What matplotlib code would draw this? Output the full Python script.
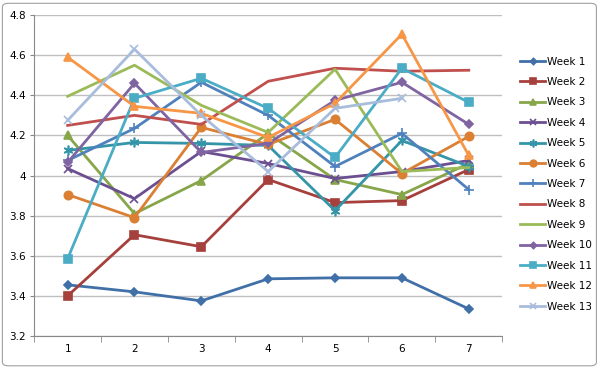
import numpy as np
import matplotlib
matplotlib.use("Agg")
import matplotlib.pyplot as plt
from matplotlib.patches import FancyBboxPatch

days = [1, 2, 3, 4, 5, 6, 7]

week1 = [3.455, 3.42, 3.375, 3.485, 3.49, 3.49, 3.335]
week2 = [3.40, 3.705, 3.645, 3.98, 3.865, 3.875, 4.03]
week3 = [4.20, 3.81, 3.975, 4.21, 3.98, 3.905, 4.06]
week4 = [4.035, 3.885, 4.12, 4.06, 3.985, 4.02, 4.075]
week5 = [4.125, 4.165, 4.16, 4.15, 3.825, 4.175, 4.045]
week6 = [3.905, 3.79, 4.24, 4.155, 4.28, 4.01, 4.195]
week7 = [4.075, 4.235, 4.465, 4.30, 4.045, 4.21, 3.93]
week8 = [4.25, 4.30, 4.255, 4.47, 4.535, 4.52, 4.525]
week9 = [4.395, 4.55, 4.35, 4.215, 4.53, 4.02, 4.04]
week10 = [4.065, 4.46, 4.115, 4.16, 4.375, 4.465, 4.255]
week11 = [3.585, 4.385, 4.485, 4.335, 4.09, 4.535, 4.365]
week12 = [4.59, 4.345, 4.31, 4.19, 4.36, 4.705, 4.10]
week13 = [4.275, 4.63, 4.30, 4.02, 4.335, 4.385, np.nan]

series = [week1, week2, week3, week4, week5, week6, week7,
          week8, week9, week10, week11, week12, week13]
labels = ["Week %d" % i for i in range(1, 14)]

colors = ["#4170A8", "#A6403C", "#87A64A", "#6C4F91", "#3595A8", "#DB7F33",
          "#4F81BD", "#C0504D", "#9BBB59", "#8064A2", "#4BACC6", "#F79646",
          "#A8BCDC"]
markers = ["D", "s", "^", "x", (6, 2, 0), "o", "+", None, None, "D", "s", "^", "x"]
msizes = [4, 6, 6, 6, 7, 6, 7, 0, 0, 4, 6, 6, 6]

fig = plt.figure(figsize=(6, 3.68), dpi=100)
fig.patches.append(FancyBboxPatch((0.004, 0.006), 0.99, 0.985,
                                  boxstyle="round,pad=0,rounding_size=0.01",
                                  transform=fig.transFigure, fill=False,
                                  edgecolor="#A0A0A0", linewidth=0.8))

ax = fig.add_axes([0.057, 0.087, 0.78, 0.872])

for vals, lab, c, m, ms in zip(series, labels, colors, markers, msizes):
    ax.plot(days, vals, color=c, linewidth=2, marker=m, markersize=ms,
            markeredgewidth=1.2, label=lab)

ax.set_xlim(0.5, 7.5)
ax.set_ylim(3.2, 4.8)
ax.set_yticks(np.arange(3.2, 4.81, 0.2))
ax.set_yticklabels(["3.2", "3.4", "3.6", "3.8", "4", "4.2", "4.4", "4.6", "4.8"])
ax.set_xticks(days)
ax.set_xticks(np.arange(0.5, 7.6, 1), minor=True)
ax.tick_params(axis="x", which="major", length=0, labelsize=7.5, pad=6)
ax.tick_params(axis="x", which="minor", length=4, color="#888888")
ax.tick_params(axis="y", length=3, color="#888888", labelsize=7.5, pad=3)

ax.grid(axis="y", color="#BFBFBF", linewidth=1)
ax.set_axisbelow(True)
for s in ["top", "right"]:
    ax.spines[s].set_visible(False)
ax.spines["left"].set_color("#888888")
ax.spines["bottom"].set_color("#888888")

leg = fig.legend(loc="center left", bbox_to_anchor=(0.86, 0.5), frameon=False,
                 fontsize=7.5, handlelength=2.4, labelspacing=1.0,
                 handletextpad=0.2, borderaxespad=0, markerscale=0.8)

fig.savefig("out.png", dpi=100)
